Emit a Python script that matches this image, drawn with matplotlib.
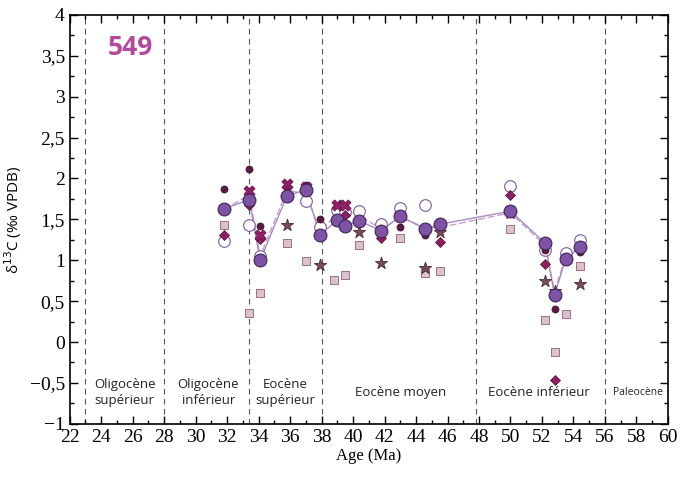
import matplotlib
matplotlib.use("Agg")
import matplotlib.pyplot as plt
from matplotlib.ticker import MultipleLocator, FuncFormatter

# sample ages (Ma)
age = [31.8, 33.4, 34.1, 35.8, 37.0, 37.9, 39.0, 39.5, 40.4, 41.8, 43.0, 44.6, 45.5, 50.0, 52.2, 52.8, 53.5, 54.4]

# filled circles, joined by the solid line
filled = [1.63, 1.74, 1.00, 1.79, 1.86, 1.31, 1.49, 1.42, 1.48, 1.36, 1.54, 1.38, 1.44, 1.60, 1.21, 0.57, 1.02, 1.16]
# second (dashed) curve
dashed = [1.62, 1.80, 1.05, 1.85, 1.82, 1.36, 1.56, 1.62, 1.55, 1.38, 1.52, 1.40, 1.40, 1.58, 1.18, 0.62, 1.04, 1.12]

open_age = [31.8, 33.4, 34.1, 35.8, 37.0, 37.9, 39.0, 39.5, 40.4, 41.8, 43.0, 44.6, 50.0, 52.2, 53.5, 54.4]
open_val = [1.24, 1.43, 1.05, 1.78, 1.73, 1.41, 1.62, 1.59, 1.60, 1.44, 1.64, 1.68, 1.91, 1.13, 1.09, 1.25]

dot_age = [31.8, 33.4, 34.1, 37.0, 37.9, 41.8, 43.0, 44.6, 52.2, 52.8, 54.4]
dot_val = [1.87, 2.12, 1.42, 1.92, 1.51, 1.38, 1.41, 1.31, 1.12, 0.41, 1.10]

diam_age = [31.8, 33.4, 34.1, 35.8, 39.5, 41.8, 45.5, 50.0, 52.2, 52.8]
diam_val = [1.31, 1.68, 1.26, 1.90, 1.55, 1.27, 1.22, 1.80, 0.96, -0.47]

cross_age = [33.4, 34.1, 35.8, 37.0, 39.0, 39.5]
cross_val = [1.85, 1.31, 1.93, 1.90, 1.68, 1.68]

star_age = [35.8, 37.9, 40.4, 41.8, 44.6, 45.5, 50.0, 52.2, 52.8, 54.4]
star_val = [1.43, 0.94, 1.34, 0.97, 0.91, 1.35, 1.58, 0.75, 0.62, 0.71]

sq_age = [31.8, 33.4, 34.1, 35.8, 37.0, 38.8, 39.5, 40.4, 43.0, 44.6, 45.5, 50.0, 52.2, 52.8, 53.5, 54.4]
sq_val = [1.43, 0.36, 0.60, 1.21, 0.99, 0.76, 0.82, 1.19, 1.27, 0.85, 0.87, 1.38, 0.27, -0.12, 0.34, 0.93]

bounds = [23.0, 28.0, 33.4, 38.0, 47.8, 56.0]
epochs = [
    (25.5, "Oligocène\nsupérieur", 9.5),
    (30.8, "Oligocène\ninférieur", 9.5),
    (35.7, "Eocène\nsupérieur", 9.5),
    (43.0, "Eocène moyen", 9.5),
    (51.8, "Eocène inférieur", 9.5),
    (58.1, "Paleocène", 7.5),
]

fig = plt.figure(figsize=(6.9, 4.8), dpi=100)
ax = fig.add_axes([0.101, 0.117, 0.867, 0.852])

for b in bounds:
    ax.axvline(b, color="#555555", lw=0.8, ls=(0, (5, 4)), zorder=1)

ax.plot(age, dashed, color="#c8a0c8", lw=1.0, ls=(0, (5, 2)), zorder=2)
ax.plot(age, filled, color="#a98cc0", lw=1.0, zorder=2)

ax.scatter(sq_age, sq_val, marker="s", s=26, c="#dcc0cc", edgecolors="#9a7088", linewidths=0.7, zorder=3)
ax.scatter(star_age, star_val, marker="*", s=85, c="#7a4a5e", edgecolors="#4a2a38", linewidths=0.6, zorder=3)
ax.scatter(open_age, open_val, marker="o", s=70, c="white", edgecolors="#7a5a9a", linewidths=0.8, zorder=3)
ax.scatter(dot_age, dot_val, marker="o", s=26, c="#5a1a44", edgecolors="#3a1030", linewidths=0.5, zorder=4)
ax.scatter(diam_age, diam_val, marker="D", s=26, c="#8e1f62", edgecolors="#4a1030", linewidths=0.5, zorder=4)
ax.scatter(cross_age, cross_val, marker="X", s=65, c="#901f66", edgecolors="#5a1040", linewidths=0.5, zorder=4)
ax.scatter(age, filled, marker="o", s=85, c="#7e52a4", edgecolors="#3e2456", linewidths=0.8, zorder=5)

for x, txt, fs in epochs:
    ax.text(x, -0.62, txt, ha="center", va="center", fontsize=fs,
            family="Open Sans", linespacing=1.3, color="#222222")

ax.text(24.4, 3.6, "549", fontsize=19, fontweight="bold", color="#b4489c",
        family="Open Sans", ha="left", va="center")

ax.set_xlim(22, 60)
ax.set_ylim(-1, 4)
ax.xaxis.set_major_locator(MultipleLocator(2))
ax.xaxis.set_minor_locator(MultipleLocator(1))
ax.yaxis.set_major_locator(MultipleLocator(0.5))
ax.yaxis.set_minor_locator(MultipleLocator(0.25))
ax.yaxis.set_major_formatter(FuncFormatter(
    lambda v, p: ("%g" % v).replace(".", ",").replace("-", "\u2212")))
ax.tick_params(which="both", direction="in", top=True, right=True, width=1.0)
ax.tick_params(which="major", length=6, labelsize=14)
ax.tick_params(which="minor", length=3)
for lab in ax.get_xticklabels() + ax.get_yticklabels():
    lab.set_family("Liberation Serif")
for s in ax.spines.values():
    s.set_linewidth(1.2)

ax.set_xlabel("Age (Ma)", fontsize=12, family="Liberation Serif", labelpad=2)
ax.set_ylabel("δ$^{13}$C (‰ VPDB)", fontsize=11, family="Open Sans", labelpad=4)

fig.savefig("out.png", dpi=100)
